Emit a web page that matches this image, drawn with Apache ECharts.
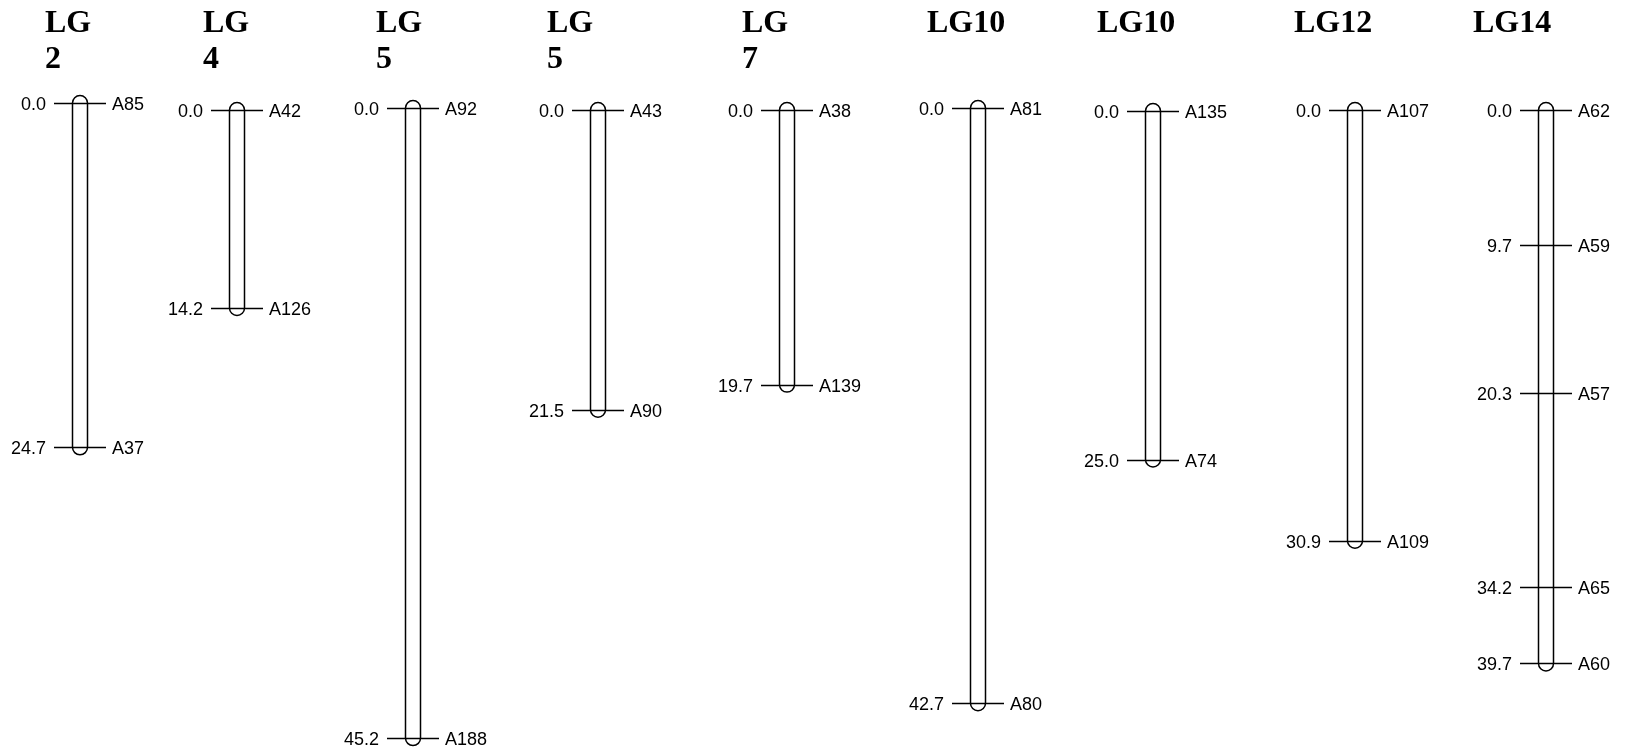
<!DOCTYPE html>
<html>
<head>
<meta charset="utf-8">
<script src="https://cdn.jsdelivr.net/npm/echarts@6/dist/echarts.min.js"></script>
<style>
  html, body { margin: 0; padding: 0; background: #fff; }
  #chart { width: 1629px; height: 754px; }
</style>
</head>
<body>
<div id="chart"></div>
<script>
// ---- Data ----
const groupTitles = ['LG\n2', 'LG\n4', 'LG\n5', 'LG\n5', 'LG\n7', 'LG10', 'LG10', 'LG12', 'LG14'];
const lg2Pos = [0.0, 24.7];   const lg2Names = ['A85', 'A37'];
const lg4Pos = [0.0, 14.2];   const lg4Names = ['A42', 'A126'];
const lg5aPos = [0.0, 45.2];  const lg5aNames = ['A92', 'A188'];
const lg5bPos = [0.0, 21.5];  const lg5bNames = ['A43', 'A90'];
const lg7Pos = [0.0, 19.7];   const lg7Names = ['A38', 'A139'];
const lg10aPos = [0.0, 42.7]; const lg10aNames = ['A81', 'A80'];
const lg10bPos = [0.0, 25.0]; const lg10bNames = ['A135', 'A74'];
const lg12Pos = [0.0, 30.9];  const lg12Names = ['A107', 'A109'];
const lg14Pos = [0.0, 9.7, 20.3, 34.2, 39.7];
const lg14Names = ['A62', 'A59', 'A57', 'A65', 'A60'];

const positions = [lg2Pos, lg4Pos, lg5aPos, lg5bPos, lg7Pos, lg10aPos, lg10bPos, lg12Pos, lg14Pos];
const markerNames = [lg2Names, lg4Names, lg5aNames, lg5bNames, lg7Names, lg10aNames, lg10bNames, lg12Names, lg14Names];

// ---- Layout (pixels) ----
const centersX = [80, 237, 413, 598, 787, 978, 1153, 1355, 1546];
const zeroY = [103, 110, 108, 110, 110, 108, 111, 110, 110];
const titleLeft = [45, 203, 376, 547, 742, 927, 1097, 1294, 1473];
const PX_PER_CM = 13.94;
const AXIS_MAX = 46;
const HALF_W = 7.5;
const TICK = 26;
const LABEL_DY = 2;

const chart = echarts.init(document.getElementById('chart'), null, { renderer: 'canvas' });

const grids = [], xAxes = [], yAxes = [], series = [], titles = [];

positions.forEach((pos, i) => {
  grids.push({ left: centersX[i] - 60, width: 120, top: zeroY[i], height: AXIS_MAX * PX_PER_CM });
  xAxes.push({ gridIndex: i, type: 'value', min: -1, max: 1, show: false });
  yAxes.push({ gridIndex: i, type: 'value', inverse: true, min: 0, max: AXIS_MAX, show: false });

  titles.push({
    text: groupTitles[i], left: titleLeft[i], top: 6, padding: 0,
    textStyle: { fontFamily: '"Liberation Serif", "Times New Roman", serif', fontWeight: 'bold',
                 fontSize: 32, lineHeight: 36, color: '#000' }
  });

  // chromosome body
  series.push({
    type: 'custom', xAxisIndex: i, yAxisIndex: i, z: 2, silent: true,
    data: [[0, pos[0], pos[pos.length - 1]]],
    encode: { x: 0, y: [1, 2] },
    renderItem: function (params, api) {
      const t = api.coord([0, api.value(1)]);
      const b = api.coord([0, api.value(2)]);
      const cx = t[0], r = HALF_W;
      const d = 'M' + (cx - r) + ' ' + t[1] +
                ' L' + (cx - r) + ' ' + b[1] +
                ' A' + r + ' ' + r + ' 0 0 0 ' + (cx + r) + ' ' + b[1] +
                ' L' + (cx + r) + ' ' + t[1] +
                ' A' + r + ' ' + r + ' 0 0 0 ' + (cx - r) + ' ' + t[1] + ' Z';
      return {
        type: 'path',
        shape: { pathData: d },
        style: { fill: '#fff', stroke: '#000', lineWidth: 1.5 }
      };
    }
  });

  // markers
  const names = markerNames[i];
  series.push({
    type: 'custom', xAxisIndex: i, yAxisIndex: i, z: 3, silent: true,
    data: pos.map((p, k) => [0, p, names[k]]),
    encode: { x: 0, y: 1 },
    renderItem: function (params, api) {
      const c = api.coord([0, api.value(1)]);
      const cx = c[0], y = Math.round(c[1]) + 0.5;
      const idx = params.dataIndex;
      return {
        type: 'group',
        children: [
          { type: 'line', shape: { x1: cx - TICK, y1: y, x2: cx + TICK, y2: y },
            style: { stroke: '#000', lineWidth: 1.5 } },
          { type: 'text', style: { text: pos[idx].toFixed(1), x: cx - TICK - 8, y: y + LABEL_DY,
              align: 'right', verticalAlign: 'middle', fill: '#000',
              fontSize: 18, fontFamily: '"Liberation Sans", Arial, sans-serif' } },
          { type: 'text', style: { text: names[idx], x: cx + TICK + 6, y: y + LABEL_DY,
              align: 'left', verticalAlign: 'middle', fill: '#000',
              fontSize: 18, fontFamily: '"Liberation Sans", Arial, sans-serif' } }
        ]
      };
    }
  });
});

chart.setOption({
  animation: false,
  backgroundColor: '#fff',
  title: titles,
  grid: grids,
  xAxis: xAxes,
  yAxis: yAxes,
  series: series
});
</script>
</body>
</html>
